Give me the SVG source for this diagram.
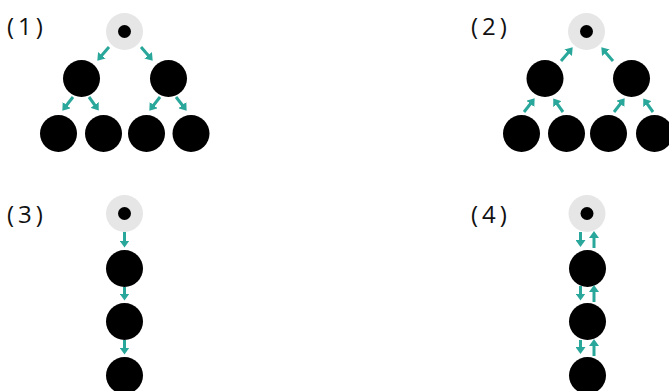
<svg xmlns="http://www.w3.org/2000/svg" width="669" height="391" viewBox="0 0 669 391">
  <style>
    .lbl { font-family: "Open Sans", "Noto Sans", "DejaVu Sans", sans-serif; font-size: 24px; fill: #111; letter-spacing: 4px; }
    .root { fill: #e6e6e6; }
    .dot { fill: #000; }
    .node { fill: #000; }
    .arr { stroke: #2aa79b; stroke-width: 3; fill: none; marker-end: url(#ah); }
  </style>
  <defs>
    <marker id="ah" viewBox="0 0 7 10" markerWidth="7" markerHeight="10" refX="3" refY="5" orient="auto" markerUnits="userSpaceOnUse">
      <path d="M0,0 L7,5 L0,10 z" fill="#2aa79b"/>
    </marker>
  </defs>

  <g id="labels">
    <text class="lbl" x="7" y="35">(1)</text>
    <text class="lbl" x="471" y="35">(2)</text>
    <text class="lbl" x="7" y="223">(3)</text>
    <text class="lbl" x="471" y="223">(4)</text>
  </g>

  <!-- Diagram 1 -->
  <g id="d1-root"><circle class="root" cx="124.5" cy="31.5" r="18.5"/><circle class="dot" cx="124.5" cy="31.5" r="6.5"/></g>
  <g id="d1-l"><circle class="node" cx="81.5" cy="78.5" r="18.5"/></g>
  <g id="d1-r"><circle class="node" cx="168.5" cy="78.5" r="18.5"/></g>
  <g id="d1-ll"><circle class="node" cx="58.5" cy="133.5" r="18.5"/></g>
  <g id="d1-lr"><circle class="node" cx="103.5" cy="133.5" r="18.5"/></g>
  <g id="d1-rl"><circle class="node" cx="146.5" cy="133.5" r="18.5"/></g>
  <g id="d1-rr"><circle class="node" cx="191" cy="133.5" r="18.5"/></g>

  <!-- Diagram 2 -->
  <g id="d2-root"><circle class="root" cx="586.5" cy="31.5" r="18.5"/><circle class="dot" cx="586.5" cy="31.5" r="6.5"/></g>
  <g id="d2-l"><circle class="node" cx="545" cy="78.5" r="18.5"/></g>
  <g id="d2-r"><circle class="node" cx="631.5" cy="78.5" r="18.5"/></g>
  <g id="d2-ll"><circle class="node" cx="521.5" cy="133.5" r="18.5"/></g>
  <g id="d2-lr"><circle class="node" cx="566.5" cy="133.5" r="18.5"/></g>
  <g id="d2-rl"><circle class="node" cx="608.5" cy="133.5" r="18.5"/></g>
  <g id="d2-rr"><circle class="node" cx="654.5" cy="133.5" r="18.5"/></g>

  <!-- Diagram 3 -->
  <g id="d3-root"><circle class="root" cx="124.5" cy="213.5" r="18.5"/><circle class="dot" cx="124.5" cy="213.5" r="6.5"/></g>
  <g id="d3-n1"><circle class="node" cx="124.5" cy="268.5" r="18.5"/></g>
  <g id="d3-n2"><circle class="node" cx="124.5" cy="321.5" r="18.5"/></g>
  <g id="d3-n3"><circle class="node" cx="124.5" cy="375.5" r="18.5"/></g>

  <!-- Diagram 4 -->
  <g id="d4-root"><circle class="root" cx="587" cy="213.5" r="18.5"/><circle class="dot" cx="587" cy="213.5" r="6.5"/></g>
  <g id="d4-n1"><circle class="node" cx="587.5" cy="268.5" r="18.5"/></g>
  <g id="d4-n2"><circle class="node" cx="587.5" cy="321.5" r="18.5"/></g>
  <g id="d4-n3"><circle class="node" cx="587.5" cy="375.5" r="18.5"/></g>

  <g id="connectors">
    <!-- 1 -->
    <line class="arr" x1="109" y1="47" x2="99.9" y2="57.6"/>
    <line class="arr" x1="141" y1="47" x2="150.1" y2="57.6"/>
    <line class="arr" x1="73" y1="97" x2="64.8" y2="107.5"/>
    <line class="arr" x1="89" y1="97" x2="96.4" y2="107.3"/>
    <line class="arr" x1="160" y1="97" x2="151.8" y2="107.5"/>
    <line class="arr" x1="176" y1="97" x2="184.2" y2="107.5"/>
    <!-- 2 -->
    <line class="arr" x1="561" y1="61" x2="570.1" y2="50.4"/>
    <line class="arr" x1="613" y1="61" x2="603.9" y2="50.4"/>
    <line class="arr" x1="524" y1="112" x2="532.2" y2="101.5"/>
    <line class="arr" x1="563" y1="112" x2="555.6" y2="101.7"/>
    <line class="arr" x1="614" y1="112" x2="622.2" y2="101.5"/>
    <line class="arr" x1="653" y1="112" x2="645.6" y2="101.7"/>
    <!-- 3 -->
    <line class="arr" x1="124.5" y1="232" x2="124.5" y2="243.5"/>
    <line class="arr" x1="124.5" y1="287" x2="124.5" y2="296.5"/>
    <line class="arr" x1="124.5" y1="340" x2="124.5" y2="350.5"/>
    <!-- 4 -->
    <line class="arr" x1="580.5" y1="232" x2="580.5" y2="243"/>
    <line class="arr" x1="594" y1="248" x2="594" y2="235"/>
    <line class="arr" x1="580.5" y1="286" x2="580.5" y2="296.5"/>
    <line class="arr" x1="594" y1="302" x2="594" y2="289"/>
    <line class="arr" x1="580.5" y1="340" x2="580.5" y2="350"/>
    <line class="arr" x1="594" y1="356" x2="594" y2="343"/>
  </g>
</svg>
